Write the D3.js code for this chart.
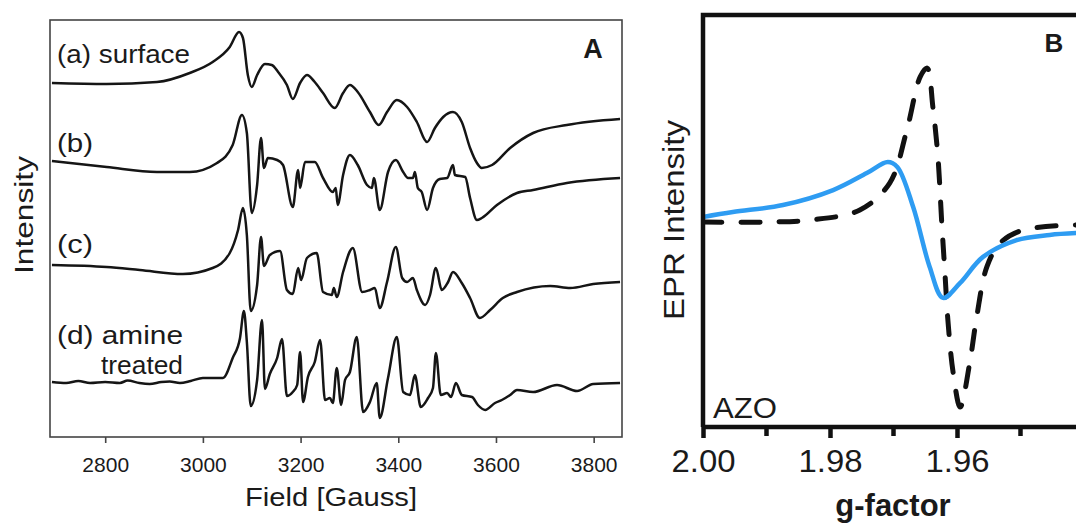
<!DOCTYPE html>
<html>
<head>
<meta charset="utf-8">
<script src="https://cdn.jsdelivr.net/npm/d3@7/dist/d3.min.js"></script>
<style>
  body { margin: 0; background: #fff; }
  text { font-family: "Liberation Sans", Arial, sans-serif; fill: #1a1a1a; }
</style>
</head>
<body>
<svg id="chart" width="1076" height="526"></svg>
<script>
// ---- panel A : EPR spectra, [field (G), intensity (a.u.)] ----
var traceSurface = [[2691,0],[2803,-0.1],[2906,0.1],[2973,1.0],[3020,2.1],[3055,3.6],[3074,5.1],[3082,4.5],
  [3092,0.8],[3100,-0.4],[3111,0.8],[3127,1.9],[3141,1.8],[3154,1.1],[3172,-0.2],[3184,-1.6],[3199,0],
  [3213,0.8],[3229,0.1],[3246,-1.0],[3270,-2.5],[3287,-1.0],[3301,-0.2],[3317,-0.9],[3342,-2.9],[3360,-4.2],
  [3377,-2.9],[3397,-1.7],[3418,-2.4],[3438,-3.9],[3459,-5.9],[3475,-4.5],[3492,-3.4],[3512,-2.9],[3530,-3.9],
  [3547,-6.5],[3561,-8.0],[3571,-8.5],[3592,-8.2],[3629,-6.5],[3676,-5.0],[3745,-4.2],[3854,-3.6]];
var traceB = [[2691,0.9],[2803,0.3],[2906,-0.2],[2973,-0.2],[3029,0.7],[3061,2.5],[3080,5.5],[3090,3.7],
  [3100,-4.3],[3111,-1.5],[3119,3.2],[3125,0.2],[3133,1.2],[3152,1.0],[3164,0.5],[3184,-3.7],[3195,0],
  [3199,-1.8],[3209,0.8],[3229,0.8],[3246,-0.8],[3266,-2.2],[3272,-1.8],[3276,-3.5],[3287,-0.5],[3301,1.5],
  [3317,0.5],[3336,-1.5],[3346,-1.8],[3350,-0.8],[3362,-4.0],[3379,-0.2],[3395,1.0],[3410,-0.2],[3420,-0.8],
  [3430,-0.8],[3434,-0.2],[3440,-1.8],[3448,-2.2],[3459,-4.0],[3471,-1.8],[3485,-0.9],[3500,-0.8],[3512,0.5],
  [3516,-0.5],[3537,-0.7],[3547,-2.8],[3561,-5.0],[3571,-4.8],[3602,-3.5],[3643,-2.3],[3676,-2.0],[3745,-1.3],
  [3854,-0.8]];
var traceC = [[2691,0.3],[2803,0.1],[2871,-0.2],[2959,-0.6],[3020,0],[3055,1.5],[3072,3.8],[3082,6.0],
  [3090,3.3],[3098,-4.3],[3111,-1.7],[3119,3.1],[3125,0.2],[3137,1.3],[3158,1.7],[3172,-2.2],[3184,-2.6],
  [3195,0],[3201,-1.2],[3213,1.0],[3233,1.5],[3246,-2.4],[3264,-2.7],[3268,-2.0],[3274,-2.9],[3287,-0.4],
  [3307,2.0],[3326,-2.4],[3342,-2.2],[3352,-2.0],[3362,-4.0],[3377,-1.4],[3395,2.1],[3408,-1.0],[3418,-1.4],
  [3430,-1.0],[3438,-2.2],[3455,-3.7],[3465,-2.7],[3477,0],[3489,-2.2],[3502,-1.4],[3512,-0.4],[3530,-1.5],
  [3547,-3.0],[3567,-5.0],[3588,-4.2],[3614,-3.0],[3643,-2.4],[3711,-1.8],[3752,-2.0],[3799,-1.6],[3854,-1.4]];
var traceAmine = [[2691,0],[2720,-0.1],[2745,0.1],[2769,-0.1],[2800,0],[2830,-0.1],[2846,0.15],[2870,-0.1],
  [2891,-0.2],[2915,0],[2932,0.05],[2953,-0.1],[2975,0.1],
  [3000,0.4],[3041,0.4],[3061,2.4],[3076,4.4],[3084,7.1],[3090,4.0],[3098,-2.4],[3111,0.2],[3121,6.2],
  [3127,-0.7],[3137,0.8],[3152,2.4],[3162,4.3],[3172,-1.4],[3184,-1.0],[3193,-0.3],[3199,3.0],[3205,-2.0],
  [3215,0.5],[3229,2.0],[3240,4.2],[3250,-1.8],[3260,-1.6],[3266,-2.1],[3274,1.4],[3283,-2.3],[3291,0.2],
  [3301,1.0],[3315,4.5],[3328,-3.0],[3342,-2.0],[3356,-0.1],[3362,-3.6],[3379,0.4],[3397,4.5],[3410,-1.0],
  [3424,-1.3],[3434,0.7],[3446,-2.5],[3461,-1.6],[3471,-0.6],[3477,2.9],[3487,-1.3],[3500,-1.1],[3508,-1.5],
  [3518,-0.1],[3530,-1.3],[3551,-1.5],[3563,-2.3],[3578,-2.8],[3598,-2.1],[3612,-1.8],[3629,-1.3],[3643,-0.8],
  [3676,-1.0],[3725,-0.3],[3766,-0.9],[3799,-0.2],[3854,-0.1]];
var traceOffsets = [35.4, 26.7, 16.9, 5.5];
var fieldTicks = [2800, 3000, 3200, 3400, 3600, 3800];

// ---- panel B : g-factor vs EPR intensity ----
var gBlue   = [2.000,1.9953,1.9874,1.9795,1.9742,1.9709,1.9694,1.9669,1.9643,1.9622,1.9595,1.9559,1.9506,1.9454,1.9406];
var intBlue = [0.015,0.039,0.073,0.146,0.229,0.283,0.259,0.063,-0.229,-0.380,-0.307,-0.180,-0.098,-0.073,-0.063];
var gDash   = [2.000,1.9899,1.9831,1.9753,1.9706,1.9679,1.9658,1.9647,1.9638,1.9630,1.9624,1.9619,1.9614,1.9606,1.9595,1.9580,1.9569,1.9553,1.9532,1.9496,1.9406];
var intDash = [-0.010,-0.010,0,0.049,0.180,0.439,0.698,0.741,0.551,0.307,-0.015,-0.259,-0.502,-0.746,-0.912,-0.698,-0.473,-0.229,-0.112,-0.049,-0.024];
var gTicks = [2.00, 1.98, 1.96];
var gMinor = [1.99, 1.97, 1.95];

var svg = d3.select("#chart");
svg.append("rect").attr("width", 1076).attr("height", 526).attr("fill", "#fff");

// stretched text helper (reference fonts are a bit wide)
function label(g, txt, x, y, size, len, opts) {
    opts = opts || {};
    var t = g.append("text").attr("x", x).attr("y", y).attr("font-size", size)
        .attr("textLength", len).attr("lengthAdjust", "spacingAndGlyphs").text(txt);
    if (opts.anchor) t.attr("text-anchor", opts.anchor);
    if (opts.bold) t.attr("font-weight", "bold");
    if (opts.transform) t.attr("transform", opts.transform);
    return t;
}

// ================= panel A =================
var ax = d3.scaleLinear().domain([2687, 3858]).range([50, 622]);
var ay = d3.scaleLinear().domain([0, 41.7]).range([437, 20]);
var gA = svg.append("g");

var lineA = d3.line()
    .x(function(d){ return ax(d[0]); })
    .curve(d3.curveMonotoneX);

[traceSurface, traceB, traceC, traceAmine].forEach(function(tr, i){
    gA.append("path")
        .attr("d", lineA.y(function(d){ return ay(d[1] + traceOffsets[i]); })(tr))
        .attr("fill", "none")
        .attr("stroke", "#151515")
        .attr("stroke-width", 2.5)
        .attr("stroke-linejoin", "round");
});

gA.append("rect")
    .attr("x", 50).attr("y", 20).attr("width", 572).attr("height", 417)
    .attr("fill", "none").attr("stroke", "#444").attr("stroke-width", 1.6);

var axisA = gA.append("g")
    .attr("transform", "translate(0,437)")
    .call(d3.axisBottom(ax).tickValues(fieldTicks).tickSize(6).tickPadding(14).tickFormat(d3.format("d")));
axisA.select(".domain").remove();
axisA.selectAll("line").attr("stroke", "#444").attr("stroke-width", 1.6);
axisA.selectAll("text").attr("font-size", 21).attr("fill", "#1a1a1a")
    .attr("font-family", "Liberation Sans, Arial, sans-serif");

label(gA, "Field [Gauss]", 331, 506, 25, 172, {anchor: "middle"});
label(gA, "Intensity", 0, 0, 25, 118, {anchor: "middle", transform: "translate(33,215) rotate(-90)"});

var labelsA = [["(a) surface", 57, 63, 133], ["(b)", 57, 152, 36], ["(c)", 57, 253, 36],
               ["(d) amine", 57, 344, 126], ["treated", 101, 374, 82]];
labelsA.forEach(function(l){
    label(gA, l[0], l[1], l[2], 26, l[3]);
});
gA.append("text").attr("x", 593).attr("y", 58).attr("text-anchor", "middle")
    .attr("font-size", 27).attr("font-weight", "bold").text("A");

// ================= panel B =================
var bx = d3.scaleLinear().domain([2.00, 1.94]).range([703, 1084]);
var by = d3.scaleLinear().domain([-1, 1]).range([425, 15]);
var gB = svg.append("g");

gB.append("clipPath").attr("id", "clipB")
  .append("rect").attr("x", 703).attr("y", 15).attr("width", 380).attr("height", 412);

var lineB = d3.line()
    .x(function(d){ return bx(d[0]); })
    .y(function(d){ return by(d[1]); })
    .curve(d3.curveCatmullRom.alpha(0.5));

gB.append("path")
    .attr("clip-path", "url(#clipB)")
    .attr("d", lineB(d3.zip(gDash, intDash)))
    .attr("fill", "none").attr("stroke", "#111").attr("stroke-width", 5)
    .attr("stroke-dasharray", "19,19").attr("stroke-linecap", "round");

gB.append("path")
    .attr("clip-path", "url(#clipB)")
    .attr("d", lineB(d3.zip(gBlue, intBlue)))
    .attr("fill", "none").attr("stroke", "#2e9cf2").attr("stroke-width", 4.5);

// frame (left, top, bottom)
gB.append("path")
    .attr("d", "M" + bx(2.00) + "," + by(-1.01) + "V" + by(1) + "H1076M" + bx(2.00) + "," + by(-1.01) + "H1076")
    .attr("fill", "none").attr("stroke", "#111").attr("stroke-width", 4.5);

var axisB = gB.append("g")
    .attr("transform", "translate(0,427)")
    .call(d3.axisBottom(bx).tickValues(gTicks).tickSize(11).tickPadding(12).tickFormat(d3.format(".2f")));
axisB.select(".domain").remove();
axisB.selectAll("line").attr("stroke", "#111").attr("stroke-width", 4.5);
axisB.selectAll("text").attr("font-size", 31).attr("fill", "#1a1a1a")
    .attr("font-family", "Liberation Sans, Arial, sans-serif")
    .attr("textLength", 64).attr("lengthAdjust", "spacingAndGlyphs");

gB.append("g").selectAll("line").data(gMinor).enter().append("line")
    .attr("x1", function(d){ return bx(d); }).attr("x2", function(d){ return bx(d); })
    .attr("y1", 427).attr("y2", 436)
    .attr("stroke", "#111").attr("stroke-width", 4.5);

gB.append("text").attr("x", 893).attr("y", 516).attr("text-anchor", "middle")
    .attr("font-size", 31).attr("font-weight", "bold").text("g-factor");
label(gB, "EPR Intensity", 0, 0, 30, 200, {anchor: "middle", transform: "translate(684,220) rotate(-90)"});
label(gB, "AZO", 713, 418, 30, 64);
gB.append("text").attr("x", 1054).attr("y", 52).attr("text-anchor", "middle")
    .attr("font-size", 26).attr("font-weight", "bold").text("B");
</script>
</body>
</html>
